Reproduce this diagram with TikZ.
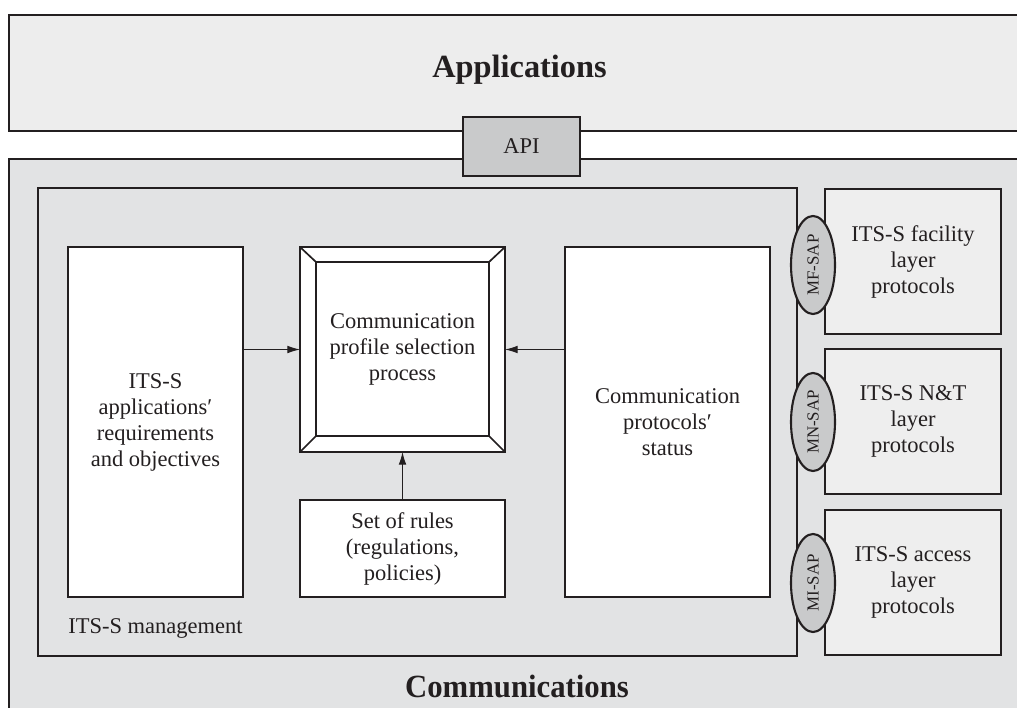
\documentclass[tikz,border=0pt]{standalone}
\usepackage{fontspec}
\setmainfont{Liberation Serif}
\usetikzlibrary{arrows.meta,calc,shapes.geometric}
\definecolor{inkline}{HTML}{231F20}
\definecolor{appsgray}{HTML}{EDEDED}
\definecolor{commgray}{HTML}{E2E3E4}
\definecolor{layergray}{HTML}{EEEEEE}
\definecolor{sapgray}{HTML}{C9CACB}
\begin{document}
\begin{tikzpicture}[x=0.025cm,y=-0.025cm,
	box/.style={draw=inkline,line width=1.5pt,inner sep=0pt,outer sep=0pt},
	whitebox/.style={box,fill=white},
	layerbox/.style={box,fill=layergray,minimum width=4.4cm,minimum height=3.625cm},
	sapnode/.style={ellipse,draw=inkline,line width=1.5pt,fill=sapgray,inner sep=0pt,
		rotate=90,minimum width=2.45cm,minimum height=1.1cm,font=\fontsize{12}{14}\selectfont,text=inkline},
	body/.style={text=inkline,font=\fontsize{16}{18.5}\selectfont,align=center},
	layertitle/.style={text=inkline,font=\fontsize{23}{27}\selectfont\bfseries},
	flow/.style={draw=inkline,line width=0.7pt,-{Latex[length=9pt,width=5.5pt]}}]
	\useasboundingbox (0,0) rectangle (1017,708);
	\clip (0,0) rectangle (1017,708);
	% layers
	\node[box,fill=appsgray,minimum width=25.525cm,minimum height=2.9cm] (apps) at (519.5,73) {};
	\node[layertitle] (appstitle) at (519.5,70) {Applications};
	\node[box,fill=commgray,minimum width=25.525cm,minimum height=14.025cm] (comm) at (519.5,439.5) {};
	\node[layertitle,xscale=0.95] (commtitle) at (517,686) {Communications};
	\node[box,fill=sapgray,minimum width=2.925cm,minimum height=1.475cm,body] (api) at (521.5,146.5) {API};
	% management
	\node[box,fill=commgray,minimum width=18.975cm,minimum height=11.7cm] (mgmt) at (417.5,422) {};
	\node[body,anchor=west,inner sep=0pt] (mgmttitle) at (68,628) {ITS-S management};
	\node[whitebox,minimum width=4.375cm,minimum height=8.75cm,body] (reqs) at (155.5,422) {ITS-S\\applications′\\requirements\\and objectives};
	\node[whitebox,line width=2pt,minimum width=5.125cm,minimum height=5.125cm] (csel) at (402.5,349.5) {};
	\coordinate (cnw) at ($(csel.north west)+(16,15)$);
	\coordinate (cne) at ($(csel.north east)+(-16,15)$);
	\coordinate (cse) at ($(csel.south east)+(-16,-16)$);
	\coordinate (csw) at ($(csel.south west)+(16,-16)$);
	\draw[inkline,line width=2pt] (cnw) rectangle (cse);
	\foreach \c/\i in {north west/cnw,north east/cne,south east/cse,south west/csw}
		\draw[inkline,line width=1.2pt] (csel.\c) -- (\i);
	\node[body] (cseltext) at (402.5,349.5) {Communication\\profile selection\\process};
	\node[whitebox,minimum width=5.125cm,minimum height=2.425cm,body] (rules) at (402.5,548.5) {Set of rules\\(regulations,\\policies)};
	\node[whitebox,minimum width=5.125cm,minimum height=8.75cm,body] (pstat) at (667.5,422) {Communication\\protocols′\\status};
	\draw[flow] (reqs.east |- cseltext) -- (csel.west |- cseltext);
	\draw[flow] (pstat.west |- cseltext) -- (csel.east |- cseltext);
	\draw[flow] (rules.north) -- (csel.south);
	% layer protocols
	\node[layerbox,body] (fac) at (913,261.5) {ITS-S facility\\layer\\protocols};
	\node[layerbox,body] (nt) at (913,421.5) {ITS-S N\&T\\layer\\protocols};
	\node[layerbox,body] (acc) at (913,582.5) {ITS-S access\\layer\\protocols};
	\node[sapnode] (mfsap) at (813,265) {MF-SAP};
	\node[sapnode] (mnsap) at (813,422) {MN-SAP};
	\node[sapnode] (misap) at (813,583) {MI-SAP};
\end{tikzpicture}
\end{document}
